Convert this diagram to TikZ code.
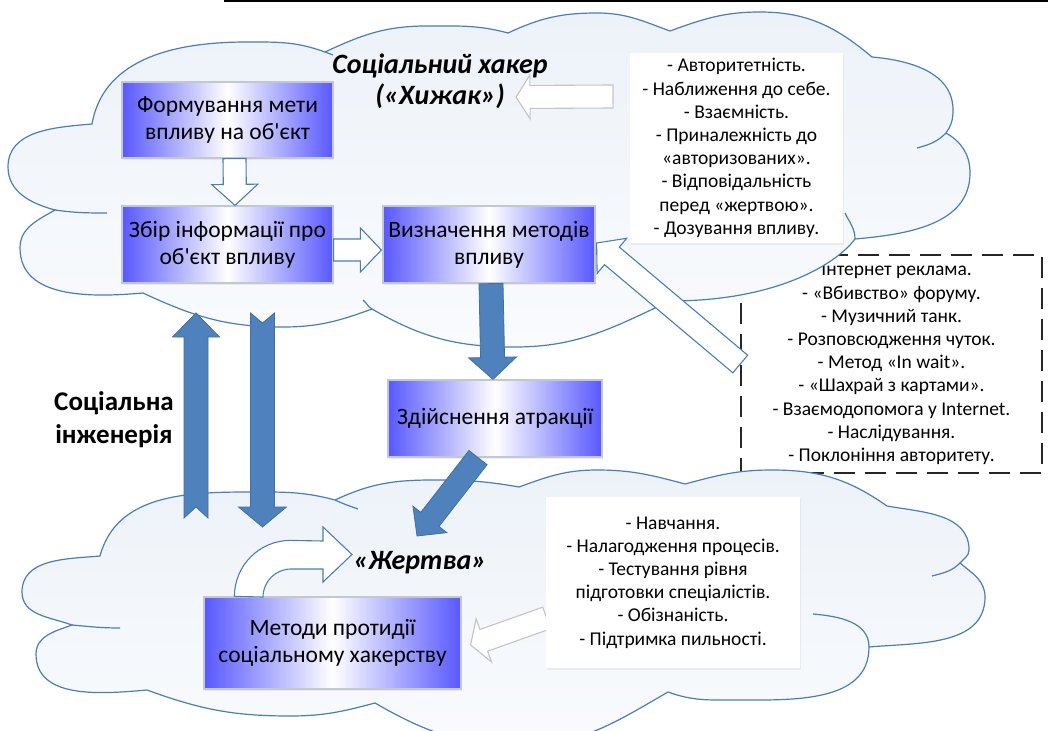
\documentclass[tikz,border=0pt]{standalone}
\usepackage{fontspec}
\setmainfont{Carlito}
\usetikzlibrary{calc,shadows}
\definecolor{cloudline}{RGB}{74,126,187}
\definecolor{cloudtop}{HTML}{EDF2F9}
\definecolor{cloudbot}{HTML}{F9FBFD}
\definecolor{arrowblue}{HTML}{4F81BD}
\definecolor{arrowedge}{HTML}{41719C}
\definecolor{boxblue}{RGB}{88,88,255}
\definecolor{boxborder}{HTML}{C3C7CE}
\definecolor{grayarrow}{HTML}{C4C4C4}
\definecolor{dashcol}{HTML}{262626}
\newcommand\blockarrow[8]{%
  \coordinate (#1c) at ($(#4)!#7pt!(#3)$);
  \coordinate (#1n) at ($(#3)!#8pt!(#4)$);
  \draw[#2] ($(#3)!#5pt!90:(#4)$) -- ($(#1c)!#5pt!90:(#4)$) -- ($(#1c)!#6pt!90:(#4)$) -- (#4)
    -- ($(#1c)!#6pt!-90:(#4)$) -- ($(#1c)!#5pt!-90:(#4)$) -- ($(#3)!#5pt!-90:(#4)$) -- (#1n) -- cycle;
}
\tikzset{
  cloudshape/.style={draw=cloudline, line width=1.2pt, top color=cloudtop, bottom color=cloudbot},
  cloudtick/.style={draw=cloudline, line width=1.2pt},
  gbox/.style={draw=boxborder, line width=1.2pt, left color=boxblue, right color=boxblue, middle color=white,
    align=center, inner sep=0pt, font=\fontsize{23.5}{27}\selectfont,
    drop shadow={shadow xshift=1pt, shadow yshift=-2pt, opacity=0.12}},
  wbox/.style={fill=white, align=center, inner sep=0pt, font=\fontsize{19.5}{23.2}\selectfont,
    drop shadow={shadow xshift=1pt, shadow yshift=-2pt, opacity=0.10}},
  dbox/.style={draw=dashcol, line width=1.5pt, dash pattern=on 21pt off 10pt, fill=white, align=center,
    inner sep=0pt, font=\fontsize{19.5}{23.2}\selectfont},
  title/.style={align=center, font=\bfseries\itshape\fontsize{28}{31}\selectfont},
  wa/.style={draw=cloudline, line width=1.1pt, fill=white, line join=miter},
  ga/.style={draw=grayarrow, line width=1.1pt, fill=white, line join=miter},
  ba/.style={draw=arrowedge, line width=0.8pt, fill=arrowblue, line join=miter},
}
\begin{document}
\begin{tikzpicture}[x=1pt,y=1pt]
\useasboundingbox (0,0) rectangle (1048,-730);
\clip (0,0) rectangle (1048,-730);
\fill[white] (0,0) rectangle (1048,-730);
% top rule
\coordinate (rl) at (224,-1.2);
\coordinate (rr) at (1048,-1.2);
\draw[line width=2pt] (rl) -- (rr);
% dashed box (behind the cloud)
\node[dbox, minimum width=301pt, minimum height=218pt] (d) at (891.5,-364)
 {- Інтернет реклама.\\- «Вбивство» форуму.\\- Музичний танк.\\- Розповсюдження чуток.\\- Метод «In wait».\\- «Шахрай з картами».\\- Взаємодопомога у Internet.\\- Наслідування.\\- Поклоніння авторитету.};
% top cloud
\path[cloudshape] (55,-210)
 to[out=165,in=-90] (8,-167)
 to[out=90,in=185] (92,-124)
 to[out=80,in=180] (247,-42)
 to[out=0,in=160] (325,-52)
 to[out=25,in=180] (427,-26)
 to[out=0,in=165] (508,-33)
 to[out=25,in=180] (597,-13)
 to[out=0,in=160] (670,-31)
 to[out=20,in=180] (760,-12)
 to[out=0,in=140] (872,-57)
 to[out=-5,in=90] (953,-110)
 to[out=-90,in=55] (946,-133)
 to[out=-30,in=90] (970,-173)
 to[out=-90,in=5] (855,-239)
 .. controls (838,-262) and (780,-301) .. (670,-301)
 to[out=-155,in=0] (515,-347)
 to[out=180,in=-30] (372,-309)
 to[out=-160,in=0] (283,-327)
 to[out=180,in=-25] (143,-293)
 to[out=185,in=-90] (20,-248)
 to[out=90,in=-150] (55,-210)
 -- cycle;
\draw[cloudtick] (55,-210) to[out=-8,in=180] (107,-213);
\draw[cloudtick] (946,-133) to[out=225,in=15] (917,-148);
\draw[cloudtick] (845,-213) to[out=-65,in=90] (855,-239);
\draw[cloudtick] (372,-309) to[out=150,in=-40] (363,-300);
\draw[cloudtick] (325,-52) to[out=-20,in=160] (333,-55);
% bottom cloud
\path[cloudshape] (72,-625)
 to[out=160,in=-90] (22,-592)
 to[out=90,in=185] (100,-556)
 to[out=75,in=180] (250,-492)
 to[out=0,in=165] (335,-500)
 to[out=25,in=180] (433,-480)
 to[out=0,in=170] (519,-487)
 to[out=20,in=180] (597,-470)
 to[out=0,in=165] (685,-484)
 to[out=15,in=180] (772,-470)
 to[out=0,in=145] (887,-506)
 to[out=-10,in=90] (969,-550)
 to[out=-90,in=50] (960,-563)
 to[out=-40,in=90] (985,-597)
 to[out=-90,in=5] (869,-647)
 to[out=-90,in=0] (735,-700)
 to[out=180,in=-20] (668,-692)
 to[out=-150,in=0] (520,-745)
 to[out=180,in=-30] (375,-703)
 to[out=-165,in=0] (290,-716)
 to[out=180,in=-20] (147,-690)
 to[out=185,in=-90] (36,-654)
 to[out=90,in=-160] (72,-625)
 -- cycle;
\draw[cloudtick] (72,-625) to[out=-5,in=180] (120,-628);
\draw[cloudtick] (335,-500) to[out=-25,in=160] (358,-509);
\draw[cloudtick] (960,-563) to[out=225,in=15] (932,-576);
\draw[cloudtick] (813,-614) to[out=-5,in=90] (869,-647);
% colored boxes
\node[gbox, minimum width=211pt, minimum height=76pt] (b1) at (227.5,-120) {Формування мети\\впливу на об\textquotesingle єкт};
\node[gbox, minimum width=211pt, minimum height=77pt] (b2) at (227.5,-244.5) {Збір інформації про\\об\textquotesingle єкт впливу};
\node[gbox, minimum width=212pt, minimum height=77pt] (b3) at (489,-244.5) {Визначення методів\\впливу};
\node[gbox, minimum width=214pt, minimum height=77pt] (b4) at (495,-418.5) {Здійснення атракції};
\node[gbox, minimum width=257pt, minimum height=92pt] (b5) at (332.5,-643) {Методи протидії\\соціальному хакерству};
% gray arrows (behind white boxes)
\coordinate (ga1t) at (613,-96.5);
\coordinate (ga1h) at (516,-97);
\blockarrow{ga1}{ga}{ga1t}{ga1h}{11.5}{22}{14}{0}
\coordinate (ga2t) at ($(b5.east)+(85,25)$);
\coordinate (ga2h) at ($(b5.east)+(9,-2)$);
\blockarrow{ga2}{ga}{ga2t}{ga2h}{11.5}{23}{14}{0}
% white boxes
\node[wbox, minimum width=213pt, minimum height=190pt] (w1) at (736.5,-148)
 {- Авторитетність.\\- Наближення до себе.\\- Взаємність.\\- Приналежність до\\«авторизованих».\\- Відповідальність\\перед «жертвою».\\- Дозування впливу.};
\node[wbox, minimum width=254pt, minimum height=171pt] (w3) at (673,-582.5)
 {- Навчання.\\- Налагодження процесів.\\- Тестування рівня\\підготовки спеціалістів.\\- Обізнаність.\\- Підтримка пильності.};
% titles
\node[title] (hacker) at (440,-81) {Соціальний хакер\\(«Хижак»)};
\node[align=center, font=\bfseries\fontsize{27}{33}\selectfont] (se) at (114,-420) {Соціальна\\інженерія};
\node[title] (victim) at (420,-563) {«Жертва»};
% white outlined arrows
\blockarrow{a1}{wa}{$(b1.south)+(7,0)$}{$(b2.north)+(7.5,0)$}{11.5}{23}{21}{0}
\blockarrow{a2}{wa}{$(b2.east)+(0,-5.5)$}{$(b3.west)+(-1,-5.5)$}{11}{22}{21}{0}
\blockarrow{a3}{wa}{d.west}{$(b3.east)+(1,1.5)$}{11.5}{23}{20}{0}
% blue arrows
\blockarrow{a4}{ba}{$(b3.south)+(2,0)$}{$(b4.north)+(-2,0)$}{12}{24}{22}{0}
\coordinate (jt) at (417,-536);
\blockarrow{a5}{ba}{$(b4.south)+(-17,0)$}{jt}{11.5}{21.5}{21}{0}
\coordinate (upt) at (196,-518);
\coordinate (uph) at (196,-313);
\blockarrow{a6}{ba}{upt}{uph}{12}{23.5}{24}{11}
\coordinate (dnt) at (262.5,-313);
\coordinate (dnh) at (262.5,-527);
\blockarrow{a7}{ba}{dnt}{dnh}{12}{24}{20}{10}
% U-turn arrow from b5 to the victim
\draw[wa] ($(b5.north west)+(31,0)$) arc[start angle=180,end angle=90,radius=56] -- (323,-541) -- (323,-527)
  -- (352,-554.5) -- (323,-582) -- (323,-569) -- (291,-569) arc[start angle=90,end angle=180,radius=28] -- cycle;
\end{tikzpicture}
\end{document}
